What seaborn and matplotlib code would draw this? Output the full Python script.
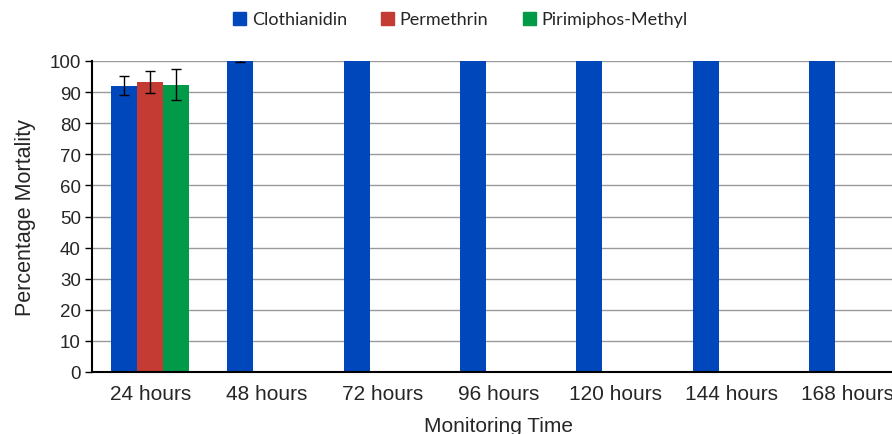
import pandas as pd
import matplotlib.pyplot as plt
import seaborn as sns

# values
times = ['24 hours', '48 hours', '72 hours', '96 hours', '120 hours', '144 hours', '168 hours']
clothianidin = [92.1, 100, 100, 100, 100, 100, 100]
clothianidin_err = [3.0, 0.4, 0, 0, 0, 0, 0]
permethrin = [93.3, 0, 0, 0, 0, 0, 0]
permethrin_err = [3.5, 0, 0, 0, 0, 0, 0]
pirimiphos = [92.4, 0, 0, 0, 0, 0, 0]
pirimiphos_err = [4.9, 0, 0, 0, 0, 0, 0]

series = ['Clothianidin', 'Permethrin', 'Pirimiphos-Methyl']
colors = ['#0047BB', '#C43B33', '#009A48']


def build_frame():
    """
        Long format table for seaborn
    """
    rows = []
    for name, vals, errs in zip(series, [clothianidin, permethrin, pirimiphos],
                                [clothianidin_err, permethrin_err, pirimiphos_err]):
        for t, v, e in zip(times, vals, errs):
            rows.append({'time': t, 'insecticide': name, 'mortality': v, 'err': e})
    return pd.DataFrame(rows)


df = build_frame()

sns.set_style('white')
plt.rcParams['font.family'] = ['Liberation Sans', 'DejaVu Sans']

fig = plt.figure(figsize=(8.92, 4.35), dpi=100)
ax = fig.add_axes([92 / 892, 1 - 373 / 435, (906 - 92) / 892, (373 - 62) / 435])

sns.barplot(data=df, x='time', y='mortality', hue='insecticide', order=times,
            hue_order=series, palette=colors, width=0.67, errorbar=None,
            linewidth=0, saturation=1, ax=ax)

# error bars at the centres of the drawn bars
for cont, name in zip(ax.containers, series):
    sub = df[df['insecticide'] == name].set_index('time').loc[times]
    for bar, v, e in zip(cont, sub['mortality'], sub['err']):
        if e > 0:
            ax.errorbar(bar.get_x() + bar.get_width() / 2, v, yerr=e, fmt='none',
                        ecolor='black', elinewidth=1, capsize=3.5, capthick=1, zorder=5)

ax.set_ylim(0, 100)
ax.set_xlim(-0.5, 6.5)
ax.set_yticks(range(0, 101, 10))
ax.yaxis.grid(True, color='#9a9a9a', linewidth=1)
ax.set_axisbelow(True)
for s in ['top', 'right']:
    ax.spines[s].set_visible(False)
ax.spines['left'].set_color('black')
ax.spines['left'].set_linewidth(1.5)
ax.spines['bottom'].set_color('black')
ax.spines['bottom'].set_linewidth(1.5)
ax.tick_params(axis='y', length=5, width=1, color='black', labelsize=13.5, pad=3, left=True)
ax.tick_params(axis='x', length=0, labelsize=15, pad=9)

ax.set_xlabel('Monitoring Time', fontsize=15, labelpad=9)
ax.set_ylabel('Percentage Mortality', fontsize=15.5, labelpad=10)

ax.legend_.remove()
handles = [plt.Rectangle((0, 0), 1, 1, color=c) for c in colors]
fig.legend(handles, series, loc='center', bbox_to_anchor=(0.516, 0.953), ncol=3,
           frameon=False, handlelength=0.72, handleheight=0.72, handletextpad=0.3,
           columnspacing=1.9, prop={'family': 'Lato', 'size': 13})

fig.savefig('out.png', dpi=100)
